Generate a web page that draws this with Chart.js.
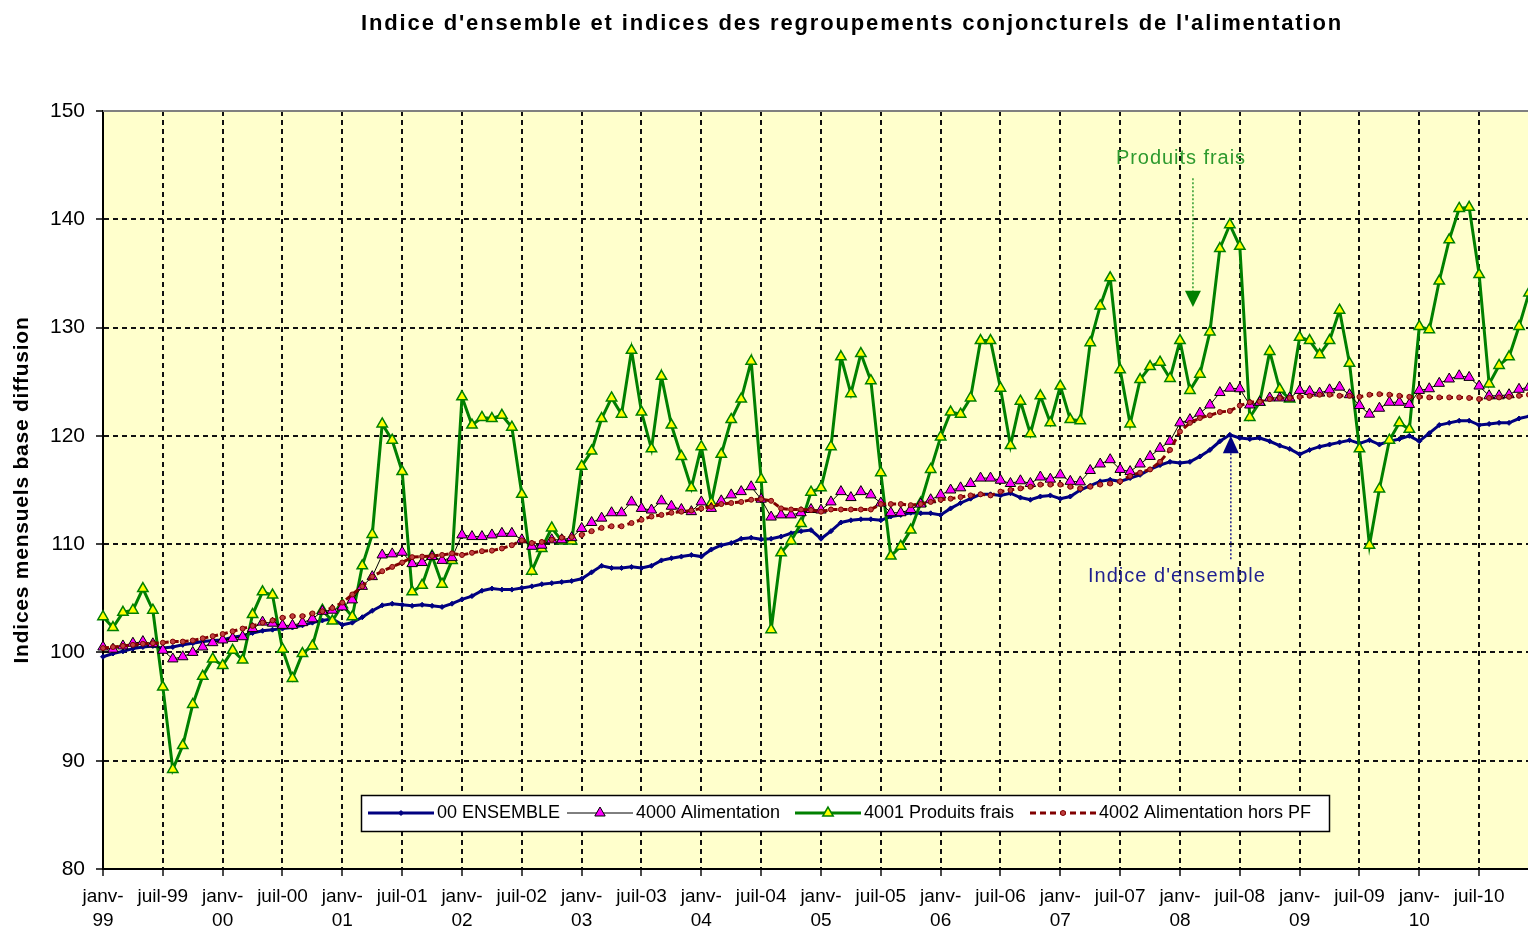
<!DOCTYPE html>
<html lang="fr">
<head>
<meta charset="utf-8">
<title>Indices alimentation</title>
<script src="https://cdn.jsdelivr.net/npm/chart.js@4.4.0/dist/chart.umd.min.js"></script>
<style>
  html, body { margin: 0; padding: 0; background: #fff; }
  canvas { display: block; }
</style>
</head>
<body>
<canvas id="indicesChart" width="1528" height="933"></canvas>
<script>
// categories: monthly, janv-99 .. déc-10
const moisCourts = ['janv', 'févr', 'mars', 'avr', 'mai', 'juin', 'juil', 'août', 'sept', 'oct', 'nov', 'déc'];
const annees = ['99', '00', '01', '02', '03', '04', '05', '06', '07', '08', '09', '10'];
const mois = annees.flatMap(a => moisCourts.map(m => m + '-' + a));

const yTicks = [80, 90, 100, 110, 120, 130, 140, 150];

// 00 ENSEMBLE
const ensemble = [
  99.6, 99.9, 100.1, 100.35, 100.5, 100.6, 100.4, 100.5, 100.7, 100.85, 101.0, 101.1,
  101.15, 101.4, 101.55, 101.8, 102.0, 102.1, 102.2, 102.3, 102.5, 102.75, 102.95, 103.1,
  102.55, 102.75, 103.25, 103.85, 104.35, 104.5, 104.4, 104.3, 104.4, 104.3, 104.2, 104.5,
  104.9, 105.2, 105.7, 105.9, 105.8, 105.8, 105.95, 106.1, 106.3, 106.4, 106.5, 106.6,
  106.8, 107.4, 108.0, 107.8, 107.8, 107.9, 107.8, 108.0, 108.5, 108.7, 108.85, 109.0,
  108.85, 109.5, 109.9, 110.1, 110.5, 110.6, 110.45, 110.5, 110.7, 111.0, 111.2, 111.3,
  110.5, 111.2, 112.0, 112.2, 112.3, 112.3, 112.2, 112.55, 112.7, 112.9, 112.85, 112.85,
  112.7, 113.3, 113.8, 114.2, 114.6, 114.6, 114.5, 114.7, 114.3, 114.1, 114.4, 114.5,
  114.2, 114.4, 115.0, 115.4, 115.8, 115.95, 115.8, 116.1, 116.4, 116.9, 117.3, 117.6,
  117.5, 117.6, 118.1, 118.7, 119.5, 120.1, 119.8, 119.7, 119.8, 119.5, 119.1, 118.8,
  118.3, 118.7, 119.0, 119.2, 119.4, 119.6, 119.3, 119.6, 119.2, 119.5, 119.7, 120.0,
  119.5, 120.25, 121.0, 121.2, 121.4, 121.4, 121.0, 121.1, 121.2, 121.2, 121.6, 121.8
];

// 4000 Alimentation
const alimentation = [
  100.5, 100.3, 100.6, 100.85, 101.0, 100.8, 100.2, 99.4, 99.6, 100.0, 100.5, 100.9,
  101.15, 101.3, 101.45, 102.2, 102.8, 102.7, 102.5, 102.5, 102.75, 103.1, 103.8, 103.9,
  104.2, 104.85, 106.1, 107.0, 109.0, 109.1, 109.25, 108.2, 108.3, 108.85, 108.5, 108.75,
  110.85, 110.7, 110.7, 110.85, 111.0, 111.0, 110.4, 109.8, 109.9, 110.4, 110.4, 110.6,
  111.45, 112.0, 112.4, 112.9, 112.9, 113.9, 113.3, 113.15, 114.0, 113.5, 113.2, 113.0,
  113.9, 113.3, 114.0, 114.55, 114.85, 115.3, 114.15, 112.5, 112.7, 112.7, 112.9, 113.2,
  113.15, 113.9, 114.85, 114.3, 114.85, 114.55, 113.8, 112.9, 112.9, 113.2, 113.7, 114.1,
  114.55, 115.0, 115.2, 115.6, 116.1, 116.1, 115.9, 115.6, 115.85, 115.6, 116.2, 116.0,
  116.4, 115.8, 115.75, 116.8, 117.4, 117.8, 116.9, 116.7, 117.4, 118.1, 118.85, 119.5,
  121.2, 121.5, 122.1, 122.85, 124.0, 124.4, 124.35, 122.85, 123.1, 123.5, 123.5, 123.5,
  124.2, 124.1, 123.95, 124.25, 124.5, 123.8, 122.8, 122.0, 122.55, 123.1, 123.1, 122.9,
  124.2, 124.35, 124.85, 125.25, 125.55, 125.4, 124.6, 123.7, 123.7, 123.8, 124.3, 124.5
];

// 4001 Produits frais
const produitsFrais = [
  103.3, 102.3, 103.7, 103.9, 105.9, 103.9, 96.8, 89.2, 91.4, 95.2, 97.8, 99.4,
  98.8, 100.2, 99.3, 103.5, 105.6, 105.3, 100.3, 97.6, 99.9, 100.6, 103.9, 102.9,
  104.4, 103.3, 108.0, 110.9, 121.1, 119.6, 116.7, 105.6, 106.2, 108.9, 106.3, 108.5,
  123.6, 121.0, 121.7, 121.6, 121.9, 120.8, 114.6, 107.5, 109.6, 111.5, 110.3, 110.3,
  117.2, 118.6, 121.6, 123.5, 122.0, 127.9, 122.2, 118.8, 125.5, 121.0, 118.1, 115.2,
  119.0, 113.8, 118.3, 121.5, 123.4, 126.9, 116.0, 102.1, 109.2, 110.3, 111.9, 114.8,
  115.2, 119.0, 127.3, 123.9, 127.6, 125.1, 116.6, 108.9, 109.8, 111.3, 113.8, 116.9,
  119.9, 122.2, 122.0, 123.5, 128.8, 128.8, 124.4, 119.1, 123.2, 120.2, 123.7, 121.2,
  124.6, 121.5, 121.4, 128.6, 132.0, 134.6, 126.1, 121.1, 125.2, 126.4, 126.8, 125.3,
  128.8, 124.2, 125.7, 129.6, 137.3, 139.5, 137.5, 121.7, 123.1, 127.8, 124.3, 123.4,
  129.1, 128.8, 127.5, 128.8, 131.6, 126.7, 118.8, 109.9, 115.1, 119.6, 121.2, 120.6,
  130.1, 129.8, 134.3, 138.1, 141.0, 141.1, 134.9, 124.8, 126.5, 127.3, 130.1, 133.2
];

// 4002 Alimentation hors PF
const alimHorsPF = [
  100.4, 100.5, 100.6, 100.7, 100.8, 100.85, 100.9, 101.0, 101.0, 101.1, 101.3, 101.5,
  101.7, 101.95, 102.2, 102.45, 102.75, 102.95, 103.2, 103.35, 103.35, 103.6, 103.8, 104.1,
  104.6, 105.35, 106.1, 107.0, 107.5, 107.9, 108.3, 108.8, 108.85, 108.9, 109.0, 109.15,
  109.0, 109.2, 109.35, 109.4, 109.6, 109.9, 110.35, 110.1, 110.2, 110.4, 110.6, 110.65,
  110.85, 111.2, 111.5, 111.65, 111.65, 111.95, 112.25, 112.55, 112.7, 112.9, 113.0, 113.1,
  113.3, 113.45, 113.7, 113.8, 113.9, 114.1, 114.15, 114.0, 113.3, 113.2, 113.2, 113.15,
  113.0, 113.2, 113.2, 113.2, 113.2, 113.2, 113.7, 113.7, 113.7, 113.6, 113.7, 113.9,
  114.1, 114.2, 114.35, 114.5, 114.6, 114.5, 114.85, 115.0, 115.15, 115.3, 115.5, 115.5,
  115.5, 115.3, 115.15, 115.3, 115.5, 115.6, 115.8, 116.3, 116.6, 116.9, 117.6, 118.7,
  120.4, 121.2, 121.65, 121.9, 122.2, 122.3, 122.8, 123.1, 123.15, 123.4, 123.5, 123.5,
  123.6, 123.7, 123.8, 123.8, 123.7, 123.7, 123.6, 123.8, 123.85, 123.8, 123.7, 123.6,
  123.6, 123.55, 123.55, 123.55, 123.55, 123.5, 123.4, 123.5, 123.55, 123.6, 123.7, 123.8
];

const FONT = '"Liberation Sans", Arial, sans-serif';

// draw text stretched to a given width using canvas letterSpacing
function spacedText(ctx, text, x, y, width) {
  ctx.letterSpacing = '0px';
  const w = ctx.measureText(text).width;
  ctx.letterSpacing = ((width - w) / text.length) + 'px';
  ctx.fillText(text, x, y);
  ctx.letterSpacing = '0px';
}

function marker(ctx, style, x, y, r, fill, stroke, lw) {
  ctx.beginPath();
  if (style === 'triangle') {
    ctx.moveTo(x, y - r);
    ctx.lineTo(x + r * 0.866, y + r / 2);
    ctx.lineTo(x - r * 0.866, y + r / 2);
    ctx.closePath();
  } else if (style === 'rectRot') {
    ctx.moveTo(x, y - r);
    ctx.lineTo(x + r, y);
    ctx.lineTo(x, y + r);
    ctx.lineTo(x - r, y);
    ctx.closePath();
  } else {
    ctx.arc(x, y, r, 0, Math.PI * 2);
  }
  ctx.fillStyle = fill;
  ctx.fill();
  ctx.lineWidth = lw;
  ctx.strokeStyle = stroke;
  ctx.setLineDash([]);
  ctx.stroke();
}

function arrow(ctx, x, yTip, yBase, color) {
  ctx.beginPath();
  ctx.moveTo(x, yTip);
  ctx.lineTo(x + 8, yBase);
  ctx.lineTo(x - 8, yBase);
  ctx.closePath();
  ctx.fillStyle = color;
  ctx.fill();
}

const decor = {
  id: 'decor',
  // the plot runs right up to the edge of the picture (last month cut)
  afterLayout(chart) {
    const xs = chart.scales.x;
    const right = chart.width + 1;
    chart.chartArea.right = right;
    chart.chartArea.width = right - chart.chartArea.left;
    xs.right = right;
    xs.width = right - xs.left;
    xs.configure();
  },
  beforeDraw(chart) {
    const { ctx, chartArea: a } = chart;
    ctx.save();
    ctx.fillStyle = '#ffffff';
    ctx.fillRect(0, 0, chart.width, chart.height);
    ctx.fillStyle = '#FFFFCC';
    ctx.fillRect(a.left, a.top, a.right - a.left, a.bottom - a.top);
    ctx.restore();
  },
  afterDraw(chart) {
    const { ctx, chartArea: a } = chart;
    const xs = chart.scales.x, ys = chart.scales.y;
    ctx.save();

    // top frame line
    ctx.strokeStyle = '#808080';
    ctx.lineWidth = 2;
    ctx.beginPath();
    ctx.moveTo(a.left, a.top);
    ctx.lineTo(a.right, a.top);
    ctx.stroke();

    // title
    ctx.fillStyle = '#000';
    ctx.textAlign = 'center';
    ctx.textBaseline = 'middle';
    ctx.font = 'bold 22px ' + FONT;
    spacedText(ctx, "Indice d'ensemble et indices des regroupements conjoncturels de l'alimentation", 852, 24, 982);

    // y axis title
    ctx.save();
    ctx.translate(22, (a.top + a.bottom) / 2);
    ctx.rotate(-Math.PI / 2);
    ctx.font = 'bold 21px ' + FONT;
    spacedText(ctx, 'Indices mensuels base diffusion', 0, 0, 347);
    ctx.restore();

    // annotations
    const green = '#2E9A2E', navy = '#1F1F8F';
    ctx.font = '20px ' + FONT;
    ctx.fillStyle = green;
    spacedText(ctx, 'Produits frais', xs.getPixelForValue(108.1), ys.getPixelForValue(145.6), 130);
    const xa = xs.getPixelForValue(109.3);
    ctx.strokeStyle = green;
    ctx.lineWidth = 1.5;
    ctx.setLineDash([2, 2]);
    ctx.beginPath();
    ctx.moveTo(xa, ys.getPixelForValue(143.8));
    ctx.lineTo(xa, ys.getPixelForValue(133.4));
    ctx.stroke();
    ctx.setLineDash([]);
    arrow(ctx, xa, ys.getPixelForValue(131.9), ys.getPixelForValue(133.4), '#008000');

    ctx.fillStyle = navy;
    spacedText(ctx, "Indice d'ensemble", xs.getPixelForValue(107.7), ys.getPixelForValue(107.0), 178);
    const xb = xs.getPixelForValue(113.1);
    ctx.strokeStyle = navy;
    ctx.setLineDash([2, 2]);
    ctx.beginPath();
    ctx.moveTo(xb, ys.getPixelForValue(108.6));
    ctx.lineTo(xb, ys.getPixelForValue(118.4));
    ctx.stroke();
    ctx.setLineDash([]);
    arrow(ctx, xb, ys.getPixelForValue(120.0), ys.getPixelForValue(118.4), '#000080');

    // legend box
    ctx.fillStyle = '#ffffff';
    ctx.fillRect(361, 795, 968, 36);
    ctx.strokeStyle = '#000';
    ctx.lineWidth = 1.5;
    ctx.strokeRect(361.5, 795.5, 968, 36);
    const starts = [368, 567, 795, 1030];
    const ly = 813;
    chart.data.datasets.forEach((ds, i) => {
      const x0 = starts[i];
      ctx.strokeStyle = ds.borderColor;
      ctx.lineWidth = ds.borderWidth;
      ctx.setLineDash(ds.borderDash || []);
      ctx.beginPath();
      ctx.moveTo(x0, ly);
      ctx.lineTo(x0 + 66, ly);
      ctx.stroke();
      marker(ctx, ds.pointStyle, x0 + 33, ly, ds.pointRadius, ds.pointBackgroundColor, ds.pointBorderColor, ds.pointBorderWidth);
      ctx.fillStyle = '#000';
      ctx.font = '18px ' + FONT;
      ctx.textAlign = 'left';
      ctx.fillText(ds.label, x0 + 69, ly);
    });
    ctx.restore();
  }
};

const ctx = document.getElementById('indicesChart').getContext('2d');

const indicesChart = new Chart(ctx, {
  type: 'line',
  data: {
    labels: mois,
    datasets: [
      {
        label: '00 ENSEMBLE',
        data: ensemble,
        borderColor: '#000080',
        borderWidth: 3,
        pointStyle: 'rectRot',
        pointRadius: 2.5,
        pointBackgroundColor: '#000080',
        pointBorderColor: '#000080',
        pointBorderWidth: 1,
        order: 4
      },
      {
        label: '4000 Alimentation',
        data: alimentation,
        borderColor: '#000000',
        borderWidth: 1,
        pointStyle: 'triangle',
        pointRadius: 6,
        pointBackgroundColor: '#FF00FF',
        pointBorderColor: '#000000',
        pointBorderWidth: 1,
        order: 2
      },
      {
        label: '4001 Produits frais',
        data: produitsFrais,
        borderColor: '#008000',
        borderWidth: 3,
        pointStyle: 'triangle',
        pointRadius: 6,
        pointBackgroundColor: '#FFFF00',
        pointBorderColor: '#008000',
        pointBorderWidth: 1.5,
        order: 3
      },
      {
        label: '4002 Alimentation hors PF',
        data: alimHorsPF,
        borderColor: '#800000',
        borderWidth: 3,
        borderDash: [6, 4],
        pointStyle: 'circle',
        pointRadius: 2.5,
        pointBackgroundColor: '#C04040',
        pointBorderColor: '#800000',
        pointBorderWidth: 1,
        order: 1
      }
    ]
  },
  options: {
    responsive: false,
    animation: false,
    devicePixelRatio: 1,
    events: [],
    elements: { line: { tension: 0 } },
    layout: { padding: { top: 111, right: 0, bottom: 0, left: 0 } },
    plugins: {
      legend: { display: false },
      tooltip: { enabled: false },
      title: { display: false }
    },
    scales: {
      x: {
        type: 'category',
        offset: false,
        afterFit: s => { s.height = 64; s.paddingRight = 0; s.paddingLeft = 0; },
        grid: {
          color: '#111',
          lineWidth: 2,
          tickLength: 7,
          tickWidth: 1.5
        },
        border: { color: '#000', width: 2, dash: [5, 4] },
        ticks: {
          autoSkip: false,
          maxRotation: 0,
          minRotation: 0,
          padding: 8,
          color: '#000',
          font: { family: FONT, size: 19, lineHeight: 1.3 },
          callback: (value, index) => {
            if (index % 6 !== 0) return null;
            const m = mois[index];
            return m.startsWith('janv') ? ['janv-', m.slice(5)] : m;
          }
        }
      },
      y: {
        min: yTicks[0],
        max: yTicks[yTicks.length - 1],
        afterFit: s => { s.width = 103; },
        afterBuildTicks: s => { s.ticks = yTicks.map(v => ({ value: v })); },
        grid: {
          color: c => (c.tick && c.tick.value === 150 ? 'rgba(0,0,0,0)' : '#111'),
          tickColor: '#000',
          lineWidth: 2,
          tickLength: 7,
          tickWidth: 1.5
        },
        border: { color: '#000', width: 2, dash: [5, 4] },
        ticks: {
          padding: 11,
          color: '#000',
          font: { family: FONT, size: 21 }
        }
      }
    }
  },
  plugins: [decor]
});
</script>
</body>
</html>
